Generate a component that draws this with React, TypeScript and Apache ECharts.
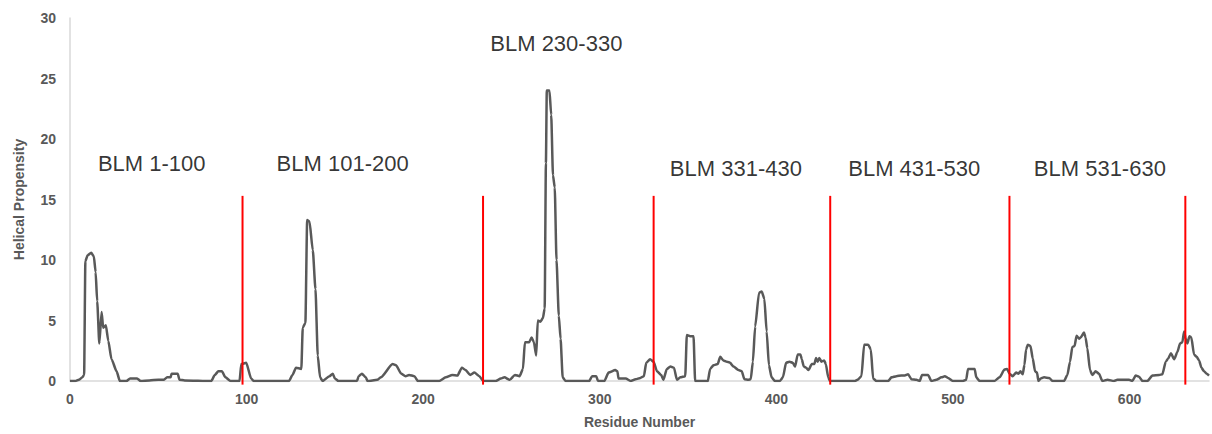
import React, { useEffect, useRef } from "react";
import * as echarts from "echarts";

// Helical propensity profile: [residue number, helical propensity]
const helicalProfile: [number, number][] = [
  [0, 0], [3, 0], [5, 0.1], [7, 0.3], [8, 0.5], [8.7, 9.9], [10, 10.4], [12, 10.6], [13.5, 10.3],
  [14.5, 9.0], [15.4, 6.6], [16.6, 3.1], [17.9, 5.7], [18.8, 4.4], [20.3, 4.6], [21.7, 3.3],
  [23.5, 1.8], [26.4, 0.8], [28.2, 0], [32, 0], [34, 0.2], [38, 0.2], [40, 0], [45, 0.05],
  [50, 0.1], [53, 0.1], [55, 0.3], [57, 0.3], [57.5, 0.6], [61, 0.6], [62, 0.1], [65, 0.05],
  [80, 0], [82, 0.5], [84, 0.8], [86, 0.8], [88, 0.3], [91, 0], [96, 0], [97, 1.4], [99.8, 1.5],
  [102.6, 0.2], [104, 0], [124, 0], [126, 0.5], [128, 1.1], [131, 1.0], [131.8, 4.4], [133.3, 4.8],
  [134.3, 13.3], [135.6, 13.2], [137.5, 10.8], [139, 7.6], [140.3, 2.1], [141.6, 0.3], [143, 0],
  [146.9, 0.4], [148.8, 0.6], [150, 0.2], [152, 0], [162.5, 0], [163.5, 0.4], [165.3, 0.6],
  [167.5, 0.3], [168.5, 0], [174, 0.1], [176, 0.3], [182.7, 1.4], [184.6, 1.3], [187.6, 0.6],
  [190, 0.4], [192, 0.5], [195, 0.4], [197, 0], [209, 0], [212.8, 0.3], [216.5, 0.5], [219.4, 0.45],
  [221.9, 1.1], [224, 0.9], [226.6, 0.5], [229, 0.7], [231.8, 0.4], [234, 0], [241, 0], [244, 0.2],
  [246, 0.3], [249, 0.1], [252, 0.5], [254.6, 0.4], [256.5, 1.0], [257.6, 3.2], [260, 3.2],
  [261.4, 3.6], [262.7, 3.2], [264, 2.1], [264.9, 5.0], [266.4, 4.9], [267.8, 5.2], [268.8, 6],
  [269.5, 18], [270, 24], [271.5, 24], [272.5, 22], [273.5, 17], [274.5, 16], [275.5, 10],
  [276.8, 5.4], [277.8, 3.5], [279, 0.3], [280.6, 0], [294, 0], [295.7, 0.4], [298, 0.4], [299, 0],
  [302.6, 0], [305, 0.7], [308.8, 0.9], [310, 0.8], [310.6, 0.2], [314.7, 0.2], [317.5, 0],
  [320.3, 0.15], [323, 0.25], [325, 0.4], [326.3, 1.5], [328.5, 1.8], [330.5, 1.6], [332.4, 0.8],
  [334.8, 0.5], [336, 0.1], [338, 1.0], [340, 1.2], [342, 1.1], [343.7, 0.1], [345.6, 0.3],
  [348.4, 0.4], [349.3, 3.8], [351.2, 3.7], [353.1, 3.7], [354, 0], [361.2, 0], [362.5, 1.0],
  [364.4, 1.3], [366.8, 1.4], [368.2, 2.0], [370, 1.7], [372, 1.6], [373.8, 1.5], [375.7, 1.2],
  [378.5, 0.9], [380.4, 0.8], [381.9, 0.15], [384.2, 0.1], [385.5, 0.15], [386.7, 1.6], [388, 4.5],
  [390.2, 7.3], [391.7, 7.4], [393.2, 6.8], [394.5, 4.1], [395.8, 1.3], [397.3, 0.3], [399.2, 0],
  [402, 0], [403.7, 0.3], [405.5, 1.5], [407.4, 1.6], [409.3, 1.5], [410.6, 1.2], [412.1, 2.2],
  [413.6, 2.2], [414.4, 1.8], [415.5, 1.2], [416.9, 1.1], [418.2, 0.9], [420.1, 1.4], [421.5, 1.4],
  [422.5, 1.9], [423.4, 1.6], [424.3, 1.9], [425.6, 1.6], [427.1, 1.7], [428, 1.4], [429.4, 0.3],
  [430.3, 0], [444.5, 0], [446, 0.1], [448.2, 0.4], [449.7, 3.0], [452, 3.0], [453.5, 2.6],
  [454.8, 0.2], [456.7, 0], [463.3, 0], [465.2, 0.3], [468, 0.4], [470.8, 0.45], [472.7, 0.45],
  [474.6, 0.55], [476.5, 0.15], [479.3, 0.1], [481.2, 0], [482.5, 0.5], [485.9, 0.5], [487.8, 0],
  [490.6, 0.1], [493.5, 0.3], [495.4, 0.4], [497.2, 0.25], [500, 0], [505.7, 0], [507.5, 0.1],
  [508.5, 1.0], [512.3, 1.0], [513.2, 0.3], [515.1, 0], [523.5, 0], [526.4, 0.3], [529.2, 0.95],
  [530.7, 1.0], [532, 0.6], [533.9, 0.4], [535.8, 0.7], [537.1, 0.6], [538.2, 0.8], [539.5, 0.55],
  [540.5, 1.35], [541.4, 2.6], [542.4, 3.0], [543.9, 2.9], [545.2, 1.85], [546.5, 0.8],
  [547.6, 0.7], [548.4, 0], [549.7, 0.2], [551.6, 0.3], [554.5, 0.25], [556.4, 0], [562.9, 0],
  [564.8, 0.5], [566.3, 1.6], [567.6, 2.8], [568.9, 2.9], [570, 3.75], [571.4, 3.5], [572.3, 3.6],
  [574.2, 4.0], [575.1, 3.6], [576.1, 2.7], [577.6, 0.9], [578.9, 0.5], [580.8, 0.8], [582.7, 0.6],
  [584.6, 0], [587.5, 0.1], [591.2, 0], [593.1, 0.1], [599.7, 0.1], [601.6, 0], [603.5, 0.45],
  [605.4, 0.35], [607.3, 0], [610.1, 0], [613, 0.45], [616.8, 0.5], [618.6, 0.55], [620.5, 1.6],
  [621.9, 1.85], [623.4, 2.3], [625.3, 1.8], [627.1, 2.4], [628.6, 3.1], [629.9, 3.2], [630.9, 4.1],
  [631.8, 3.5], [632.8, 3.1], [633.9, 3.7], [635, 3.6], [636.5, 2.2], [638, 2.0], [639.4, 1.7],
  [640.7, 1.1], [642.2, 0.8], [643.7, 0.6], [645, 0.45],
];

// Fragment boundaries (residue numbers) drawn as red vertical lines
const boundaries: number[] = [97.7, 233.9, 330.5, 430.5, 532, 631.6];
const boundaryBottom = -0.3;
const boundaryTop = 15.3;

// Fragment labels and their anchor positions in data units
const fragmentNames: string[] = [
  "BLM 1-100", "BLM 101-200", "BLM 230-330", "BLM 331-430", "BLM 431-530", "BLM 531-630",
];
const fragmentLabelX: number[] = [46.3, 154.4, 275.4, 377.1, 478.1, 583.2];
const fragmentLabelY: number[] = [18.0, 17.95, 27.9, 17.6, 17.6, 17.6];

const xTicks = { min: 0, max: 645, interval: 100 };
const yTicks = { min: 0, max: 30, interval: 5 };

const FONT = "'Liberation Sans', Arial, sans-serif";

export default function App() {
  const ref = useRef<HTMLDivElement>(null);

  useEffect(() => {
    if (!ref.current) return;
    const chart = echarts.init(ref.current, null, { renderer: "svg" });

    const boundarySeries = boundaries.map((b, i) => ({
      type: "line",
      name: "boundary" + i,
      data: [
        [b, boundaryBottom],
        [b, boundaryTop],
      ],
      symbol: "none",
      clip: false,
      lineStyle: { color: "#ff0000", width: 2 },
      z: 3,
      silent: true,
    }));

    chart.setOption({
      animation: false,
      grid: { left: 70, right: 0, top: 18, bottom: 48, containLabel: false },
      xAxis: {
        type: "value",
        min: xTicks.min,
        max: xTicks.max,
        interval: xTicks.interval,
        name: "Residue Number",
        nameLocation: "middle",
        nameGap: 34,
        nameTextStyle: { color: "#595959", fontWeight: "bold", fontSize: 14, fontFamily: FONT },
        axisLine: { show: true, lineStyle: { color: "#d9d9d9", width: 1.5 } },
        axisTick: { show: false },
        splitLine: { show: false },
        axisLabel: {
          color: "#595959",
          fontWeight: "bold",
          fontSize: 14,
          fontFamily: FONT,
          margin: 11,
          formatter: (v: number) => (v % 100 === 0 ? String(v) : ""),
        },
      },
      yAxis: {
        type: "value",
        min: yTicks.min,
        max: yTicks.max,
        interval: yTicks.interval,
        name: "Helical Propensity",
        nameLocation: "middle",
        nameGap: 44,
        nameTextStyle: { color: "#595959", fontWeight: "bold", fontSize: 14, fontFamily: FONT },
        axisLine: { show: true, lineStyle: { color: "#d9d9d9", width: 1.5 } },
        axisTick: { show: false },
        splitLine: { show: false },
        axisLabel: {
          color: "#595959",
          fontWeight: "bold",
          fontSize: 14,
          fontFamily: FONT,
          margin: 14,
        },
      },
      series: [
        {
          type: "line",
          name: "Helical Propensity",
          data: helicalProfile,
          symbol: "none",
          smooth: 0.2,
          smoothMonotone: "x",
          lineStyle: { color: "#595959", width: 2.5 },
          z: 2,
        },
        ...boundarySeries,
        {
          type: "scatter",
          name: "labels",
          symbolSize: 0,
          silent: true,
          data: fragmentNames.map((n, i) => ({ name: n, value: [fragmentLabelX[i], fragmentLabelY[i]] })),
          label: {
            show: true,
            position: "inside",
            formatter: (p: any) => p.name,
            color: "#000000",
            fontSize: 22,
            fontFamily: FONT,
          },
          z: 4,
        },
      ],
    });

    return () => chart.dispose();
  }, []);

  return (
    <div
      ref={ref}
      style={{ position: "fixed", left: 0, top: 0, width: 1212, height: 434, background: "#ffffff" }}
    />
  );
}
